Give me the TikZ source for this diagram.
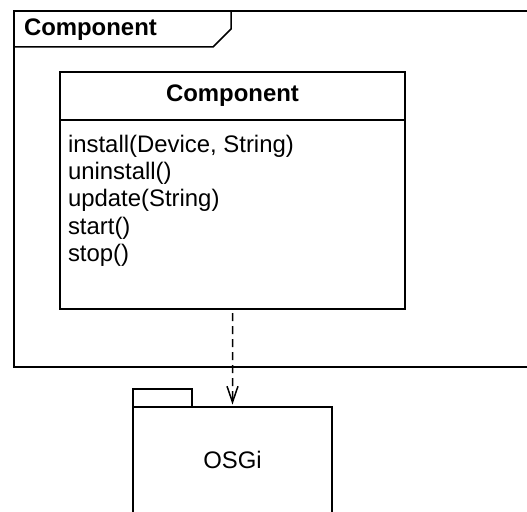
\documentclass[tikz,border=0pt]{standalone}
\usepackage{fontspec}
\setmainfont{Liberation Sans}
\usetikzlibrary{arrows.meta}
\begin{document}
\begin{tikzpicture}[x=1bp,y=-1bp,
  line/.style={draw=black,line width=1.5bp},
  lbl/.style={inner sep=0pt,outer sep=0pt,font=\fontsize{24}{27}\selectfont},
  boxnode/.style={line,inner sep=0pt,outer sep=0pt},
  dep/.style={line,dash pattern=on 8bp off 5bp,dash phase=-4bp,shorten >=2.5bp,-{Straight Barb[length=16bp,width=11bp,line width=1.5bp]}}]
\useasboundingbox (0,0) rectangle (527,512);
\clip (0,0) rectangle (527,512);
% outer frame
\draw[line] (545,11) -- (14,11) -- (14,367) -- (545,367);
\draw[line] (14,47) -- (213,47) -- (231,29) -- (231,11);
\node[lbl,anchor=base west,font=\fontsize{24}{27}\selectfont\bfseries] (frametitle) at (24,36) {Component};
% class box
\node[boxnode,anchor=north west,minimum width=345bp,minimum height=48bp,font=\fontsize{24}{27}\selectfont\bfseries] (hdr) at (60,72) {Component};
\node[boxnode,anchor=north west,minimum width=345bp,minimum height=189bp] (body) at (60,120) {};
\node[lbl,anchor=base west] (op1) at (68,153) {install(Device, String)};
\node[lbl,anchor=base west] (op2) at (68,180) {uninstall()};
\node[lbl,anchor=base west] (op3) at (68,207) {update(String)};
\node[lbl,anchor=base west] (op4) at (68,234) {start()};
\node[lbl,anchor=base west] (op5) at (68,261) {stop()};
% package
\node[boxnode,anchor=south west,minimum width=59bp,minimum height=18bp] (pkgtab) at (133,407) {};
\node[boxnode,anchor=north west,minimum width=199bp,minimum height=106bp,font=\fontsize{24}{27}\selectfont] (pkg) at (133,407) {OSGi};
% dependency
\draw[dep] (body.south) -- (pkg.north);
\end{tikzpicture}
\end{document}
